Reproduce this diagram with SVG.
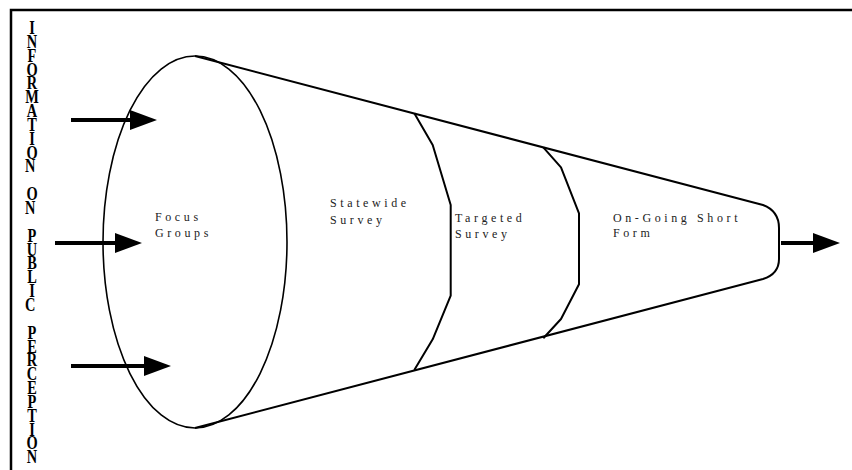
<svg xmlns="http://www.w3.org/2000/svg" width="852" height="470" viewBox="0 0 852 470">
<style>
.frame{fill:none;stroke:#000;stroke-width:2.5}
.outline{fill:none;stroke:#000;stroke-width:2;stroke-linejoin:round}
.ell{fill:none;stroke:#000;stroke-width:1.6}
.arrow{stroke:#000;stroke-width:4;fill:none}
.lbl{font-family:"Liberation Serif","Times New Roman",serif;font-size:12px;letter-spacing:3.6px;fill:#222}
.side{font-family:"Liberation Serif","Times New Roman",serif;font-size:18px;font-weight:bold;fill:#000;text-anchor:middle}
</style>
<defs>
<marker id="head" viewBox="0 -10 27 20" markerWidth="27" markerHeight="20" refX="0" refY="0" orient="auto" markerUnits="userSpaceOnUse">
<path d="M0,-10 L27,0 L0,10 Z" fill="#000"/>
</marker>
</defs>
<rect width="852" height="470" fill="#fff"/>
<g id="frame">
<path class="frame" d="M11,470 L11,10 L852,10"/>
</g>
<g id="side-label" transform="translate(32,0) scale(0.8,1)">
<text class="side"><tspan x="0" y="34">I</tspan><tspan x="0" y="47.9">N</tspan><tspan x="0" y="61.7">F</tspan><tspan x="0" y="75.6">O</tspan><tspan x="0" y="89.4">R</tspan><tspan x="0" y="103.3">M</tspan><tspan x="0" y="117.1">A</tspan><tspan x="0" y="131">T</tspan><tspan x="0" y="144.8">I</tspan><tspan x="0" y="158.7">O</tspan><tspan x="0" y="172.5">N</tspan> <tspan x="0" y="200.2">O</tspan><tspan x="0" y="214.1">N</tspan> <tspan x="0" y="241.8">P</tspan><tspan x="0" y="255.6">U</tspan><tspan x="0" y="269.5">B</tspan><tspan x="0" y="283.3">L</tspan><tspan x="0" y="297.2">I</tspan><tspan x="0" y="311">C</tspan> <tspan x="0" y="338.7">P</tspan><tspan x="0" y="352.6">E</tspan><tspan x="0" y="366.4">R</tspan><tspan x="0" y="380.3">C</tspan><tspan x="0" y="394.1">E</tspan><tspan x="0" y="408">P</tspan><tspan x="0" y="421.8">T</tspan><tspan x="0" y="435.7">I</tspan><tspan x="0" y="449.5">O</tspan><tspan x="0" y="463.4">N</tspan></text>
</g>
<g id="funnel">
<ellipse class="ell" cx="195" cy="242" rx="92" ry="186"/>
<path class="outline" d="M195,56 L763,205 Q779,211 779,228 L779,259 Q779,274 763,279 L195,428"/>
</g>
<g id="dividers">
<polyline class="outline" points="414.3,113.3 432.7,145 450.7,205 450.7,295.7 432.7,339.3 414.3,370"/>
<polyline class="outline" points="543.3,147.3 561,167.3 579,213.3 579,284.3 561,319 543.3,338.3"/>
</g>
<g id="focus-groups">
<text class="lbl"><tspan x="155" y="221">Focus</tspan><tspan x="155" y="237">Groups</tspan></text>
</g>
<g id="statewide-survey">
<text class="lbl"><tspan x="330" y="207">Statewide</tspan><tspan x="330" y="224">Survey</tspan></text>
</g>
<g id="targeted-survey">
<text class="lbl"><tspan x="455" y="222">Targeted</tspan><tspan x="455" y="238">Survey</tspan></text>
</g>
<g id="short-form">
<text class="lbl"><tspan x="613" y="222">On-Going Short</tspan><tspan x="613" y="237">Form</tspan></text>
</g>
<g id="connectors">
<line class="arrow" x1="71" y1="120" x2="130" y2="120" marker-end="url(#head)"/>
<line class="arrow" x1="55" y1="243" x2="115" y2="243" marker-end="url(#head)"/>
<line class="arrow" x1="71" y1="366" x2="144" y2="366" marker-end="url(#head)"/>
<line class="arrow" x1="781" y1="243" x2="813" y2="243" marker-end="url(#head)"/>
</g>
</svg>
